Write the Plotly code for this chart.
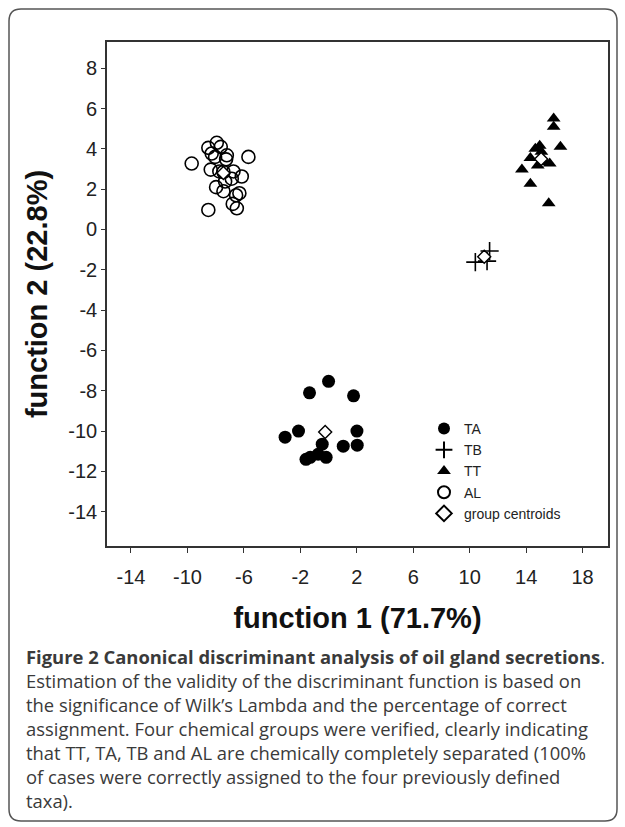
import plotly.graph_objects as go

# ---------------- data ----------------
TA_x = [0.0, -1.35, 1.77, -2.13, -3.08, 2.01, 2.03, 1.04, -0.45, -1.3, -0.74, -0.17, -1.6]
TA_y = [-7.53, -8.1, -8.25, -10.0, -10.3, -10.0, -10.7, -10.75, -10.65, -11.3, -11.15, -11.3, -11.4]

TB_x = [10.4, 11.41, 11.23]
TB_y = [-1.62, -1.07, -1.57]

TT_x = [15.95, 15.95, 14.96, 14.65, 16.43, 14.3, 15.08, 15.67, 14.82, 13.7, 14.3, 15.6, 15.3]
TT_y = [5.5, 5.1, 4.15, 4.0, 4.1, 3.55, 3.85, 3.27, 3.18, 2.97, 2.27, 1.3, 3.35]

AL_x = [-7.92, -8.52, -7.64, -8.28, -8.04, -7.21, -7.26, -5.68, -9.7, -8.35, -7.74, -7.45,
        -6.74, -6.15, -6.86, -7.33, -7.97, -7.45, -6.32, -6.55, -6.79, -6.5, -8.52]
AL_y = [4.3, 4.05, 4.1, 3.77, 3.6, 3.68, 3.48, 3.6, 3.27, 2.97, 2.88, 2.85,
        2.88, 2.63, 2.52, 2.38, 2.1, 1.9, 1.8, 1.7, 1.27, 1.05, 0.97]

CEN_x = [-0.24, 11.03, 15.06, -7.45]
CEN_y = [-10.05, -1.35, 3.5, 2.8]

x_ticks = [-14, -10, -6, -2, 2, 6, 10, 14, 18]
y_ticks = [8, 6, 4, 2, 0, -2, -4, -6, -8, -10, -12, -14]

x_title = "function 1 (71.7%)"
y_title = "function 2 (22.8%)"
caption = ("<b>Figure 2 Canonical discriminant analysis of oil gland secretions</b>.<br>"
           "Estimation of the validity of the discriminant function is based on<br>"
           "the significance of Wilk’s Lambda and the percentage of correct<br>"
           "assignment. Four chemical groups were verified, clearly indicating<br>"
           "that TT, TA, TB and AL are chemically completely separated (100%<br>"
           "of cases were correctly assigned to the four previously defined<br>"
           "taxa).")

# ---------------- layout geometry ----------------
W, H = 625, 827
L, R, T, B = 107, 17, 42, 281
PW, PH = W - L - R, H - T - B

def px(xp):
    return (xp - L) / PW

def py(yp):
    return 1 - (yp - T) / PH

AXC = "#333333"
FONT = "Liberation Sans, Arial, sans-serif"

fig = go.Figure()
fig.add_trace(go.Scatter(x=TA_x, y=TA_y, mode="markers", name="TA",
                         marker=dict(symbol="circle", size=13, color="black")))
fig.add_trace(go.Scatter(x=TB_x, y=TB_y, mode="markers", name="TB",
                         marker=dict(symbol="cross-thin-open", size=13, color="black",
                                     line=dict(color="black", width=1.6))))
fig.add_trace(go.Scatter(x=TT_x, y=TT_y, mode="markers", name="TT",
                         marker=dict(symbol="triangle-up", size=12, color="black")))
fig.add_trace(go.Scatter(x=AL_x, y=AL_y, mode="markers", name="AL",
                         marker=dict(symbol="circle-open", size=13, color="black",
                                     line=dict(color="black", width=1.6))))
fig.add_trace(go.Scatter(x=CEN_x, y=CEN_y, mode="markers", name="group centroids",
                         marker=dict(symbol="diamond", size=10, color="white",
                                     line=dict(color="black", width=1.4))))

# rounded outer frame
x0, y0, x1, y1, r = 9, 9, 617, 821, 12
rx, ry = r / PW, r / PH
X0, X1, Y0, Y1 = px(x0), px(x1), py(y0), py(y1)
path = (f"M {X0+rx},{Y0} L {X1-rx},{Y0} Q {X1},{Y0} {X1},{Y0-ry} "
        f"L {X1},{Y1+ry} Q {X1},{Y1} {X1-rx},{Y1} "
        f"L {X0+rx},{Y1} Q {X0},{Y1} {X0},{Y1+ry} "
        f"L {X0},{Y0-ry} Q {X0},{Y0} {X0+rx},{Y0} Z")
fig.add_shape(type="path", path=path, xref="paper", yref="paper",
              line=dict(color="#555555", width=1.5), layer="below")

fig.add_annotation(text=caption, xref="paper", yref="paper", x=px(24), y=py(642),
                   xanchor="left", yanchor="top", align="left", showarrow=False,
                   font=dict(family="Open Sans, Noto Sans, sans-serif", size=18.4,
                             color="#3a3a3a"))

fig.update_layout(
    width=W, height=H,
    margin=dict(l=L, r=R, t=T, b=B),
    paper_bgcolor="white", plot_bgcolor="white",
    font=dict(family=FONT, color="#222222"),
    showlegend=True,
    legend=dict(x=px(424), y=py(413), xanchor="left", yanchor="top",
                bgcolor="rgba(0,0,0,0)", font=dict(size=14, family=FONT, color="#222222"),
                itemwidth=30, tracegroupgap=0, itemsizing="constant"),
    xaxis=dict(range=[-15.7, 19.8], tickvals=x_ticks, ticktext=[str(v) for v in x_ticks],
               ticks="outside", ticklen=5, ticklabelstandoff=7,
               tickcolor=AXC, tickwidth=1, showline=True, linecolor=AXC, linewidth=1.6,
               mirror=True, showgrid=False, zeroline=False,
               tickfont=dict(size=20, family=FONT, color="#222222"),
               title=dict(text=f"<b>{x_title}</b>", standoff=21,
                          font=dict(size=29, family=FONT, color="#111111"))),
    yaxis=dict(range=[-15.7, 9.3], tickvals=y_ticks, ticktext=[str(v) for v in y_ticks],
               ticks="outside", ticklen=4,
               tickcolor=AXC, tickwidth=1, showline=True, linecolor=AXC, linewidth=1.6,
               mirror=True, showgrid=False, zeroline=False,
               tickfont=dict(size=20, family=FONT, color="#222222"),
               title=dict(text=f"<b>{y_title}</b>", standoff=12,
                          font=dict(size=29, family=FONT, color="#111111"))),
)

fig.write_html("out.html")
